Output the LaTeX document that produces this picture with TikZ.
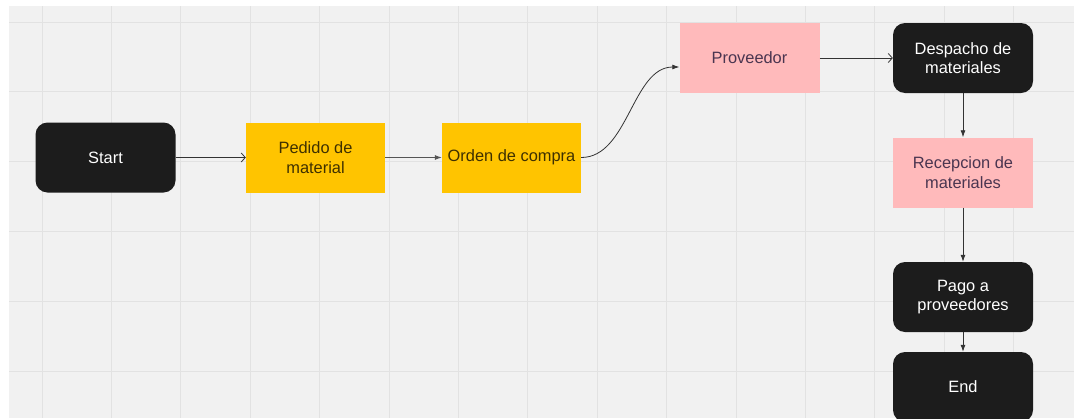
\documentclass[tikz,border=0pt]{standalone}
\usepackage{fontspec}
\setmainfont{Liberation Sans}
\usepackage{tikz}
\usetikzlibrary{arrows.meta}
\definecolor{canvas}{HTML}{F1F1F1}
\definecolor{gridline}{HTML}{E2E2E2}
\definecolor{boxblack}{HTML}{1C1C1C}
\definecolor{boxyellow}{HTML}{FFC400}
\definecolor{boxpink}{HTML}{FFBABB}
\definecolor{textyellow}{HTML}{3E3000}
\definecolor{textpink}{HTML}{4A3550}
\definecolor{linegray}{HTML}{333333}
\definecolor{dashgray}{HTML}{555555}

\begin{document}
\begin{tikzpicture}[x=1pt,y=-1pt]
\useasboundingbox (0,0) rectangle (1074,418);
\clip (0,0) rectangle (1074,418);
% canvas and grid
\fill[white] (0,0) rectangle (1074,418);
\fill[canvas] (9,6) rectangle (1074,418);
\foreach \x in {0,...,14}
    \draw[gridline,line width=1pt] (42+69.4*\x,6) -- (42+69.4*\x,418);
\foreach \y in {0,...,5}
    \draw[gridline,line width=1pt] (9,22+69.8*\y) -- (1074,22+69.8*\y);
\begin{scope}[every node/.style={rectangle,rounded corners=12pt,fill=boxblack,text=white,
              minimum width=140pt,minimum height=70pt,align=center,
              font=\fontsize{16.4}{19.5}\selectfont}]
    \node (S) at (105.5,157.5) {Start};
    \node (D) at (963,58) {Despacho de\\materiales};
    \node (G) at (963,297) {Pago a\\proveedores};
    \node (E) at (963,387) {End};
\end{scope}
\begin{scope}[every node/.style={rectangle,fill=boxyellow,text=textyellow,
              minimum width=139pt,minimum height=70pt,align=center,
              font=\fontsize{16.4}{19.5}\selectfont}]
    \node (P) at (315.5,157.5) {Pedido de\\material};
    \node (O) at (511.5,157.5) {Orden de compra};
\end{scope}
\begin{scope}[every node/.style={rectangle,fill=boxpink,text=textpink,
              minimum width=140pt,minimum height=70pt,align=center,
              font=\fontsize{16.4}{19.5}\selectfont}]
    \node (V) at (749.5,58) {Proveedor};
    \node (R) at (963,172.5) {Recepcion de\\materiales};
\end{scope}
\begin{scope}[>={Latex[length=7pt,width=5pt]},
              every edge/.style={draw=linegray,line width=0.8pt}]
    \path [-{Straight Barb[length=4pt,width=9pt]}] (S) edge (P);
    \path [->] (P) edge [dash pattern=on 2.5pt off 0.5pt,draw=dashgray] (O);
    \path [->] (O.east) edge [out=0,in=180,looseness=0.9] ([yshift=-9pt]V.west);
    \path [-{Straight Barb[length=4pt,width=9pt]}] (V) edge (D);
    \path [->] (D) edge (R);
    \path [->] (R) edge (G);
    \path [->] (G) edge (E);
\end{scope}
\end{tikzpicture}
\end{document}
